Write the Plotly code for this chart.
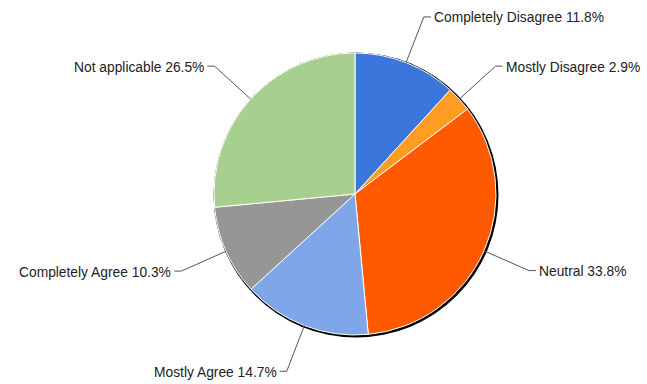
import math
import plotly.graph_objects as go

labels = ["Completely Disagree", "Mostly Disagree", "Neutral", "Mostly Agree", "Completely Agree", "Not applicable"]
values = [11.8, 2.9, 33.8, 14.7, 10.3, 26.5]
colors = ["#3b76dc", "#ff9c22", "#ff5a00", "#7ea6e8", "#969696", "#a7cf8e"]

W, H = 647, 384
cx, cy, r = 355, 194, 141
r_out = 190
hlen = 7
gap = 1

def px(x):
    return x / W

def py(y):
    return 1 - y / H

fig = go.Figure()
fig.add_trace(go.Pie(
    labels=labels, values=values, sort=False, direction="clockwise", rotation=0,
    marker=dict(colors=colors, line=dict(color="white", width=1)),
    textinfo="none", hoverinfo="label+percent", showlegend=False,
    domain=dict(x=[px(cx - r), px(cx + r)], y=[py(cy + r), py(cy - r)]),
))

shapes = [dict(type="circle", xref="paper", yref="paper", layer="below",
               x0=px(cx + 1 - 142.5), x1=px(cx + 1 + 142.5),
               y0=py(cy + 1 + 142.5), y1=py(cy + 1 - 142.5),
               fillcolor="black", line=dict(width=0))]
annotations = []
total = sum(values)
cum = 0
for lab, v in zip(labels, values):
    mid = (cum + v / 2) / total * 2 * math.pi
    cum += v
    s, c = math.sin(mid), math.cos(mid)
    x1, y1 = cx + r * s, cy - r * c
    x2, y2 = cx + r_out * s, cy - r_out * c
    side = 1 if s >= 0 else -1
    x3 = x2 + side * hlen
    shapes.append(dict(type="path", xref="paper", yref="paper",
                       path=f"M {px(x1)} {py(y1)} L {px(x2)} {py(y2)} L {px(x3)} {py(y2)}",
                       line=dict(color="#555555", width=1)))
    annotations.append(dict(xref="paper", yref="paper", x=px(x3 + side * gap), y=py(y2 + 1),
                            xanchor="left" if side > 0 else "right", yanchor="middle",
                            text=f"{lab} {v}%", showarrow=False,
                            font=dict(family="Liberation Sans, Arial, sans-serif", size=13.8, color="#222222")))

fig.update_layout(width=W, height=H, margin=dict(l=0, r=0, t=0, b=0),
                  paper_bgcolor="white", plot_bgcolor="white",
                  shapes=shapes, annotations=annotations)
fig.write_html("out.html", config={"displayModeBar": False},
               post_script="document.body.style.margin='0';document.body.style.overflow='hidden';")
